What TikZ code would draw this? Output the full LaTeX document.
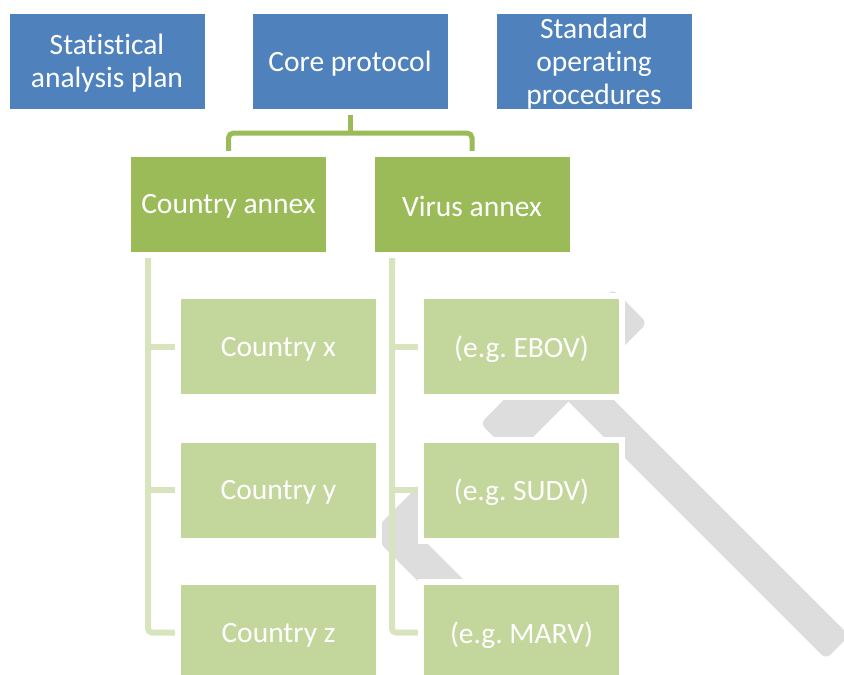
\documentclass[tikz,border=0pt]{standalone}
\usepackage{fontspec}
\setmainfont{Carlito}[Ligatures=NoCommon]
\frenchspacing
\definecolor{cblue}{HTML}{4F81BD}
\definecolor{cgreen}{HTML}{9BBB59}
\definecolor{clight}{HTML}{C3D69B}
\definecolor{cline}{HTML}{D7E4BD}
\definecolor{cgray}{HTML}{DDDDDD}
\pgfdeclarelayer{bg}
\pgfdeclarelayer{mid}
\pgfsetlayers{bg,mid,main}
\tikzset{
  box/.style={minimum width=195pt, minimum height=95pt, inner sep=0pt,
    preaction={draw=white, line width=12pt}},
  txt/.style={inner sep=0pt, align=center, text=white,
    font=\fontsize{29.5}{33}\selectfont, yshift=-2.5pt},
  topbox/.style={box, fill=cblue},
  midbox/.style={box, fill=cgreen},
  leafbox/.style={box, fill=clight},
  conn/.style={draw=cgreen, line width=5pt, rounded corners=5pt},
  ln/.style={draw=cline, line width=6pt, rounded corners=4pt},
  grayshape/.style={fill=cgray, rounded corners=6pt}
}
\begin{document}
\begin{tikzpicture}[x=1pt,y=-1pt]
\useasboundingbox (0,0) rectangle (844,675);
% nodes
\node[topbox, label={[txt]center:{Statistical\\analysis plan}}] (sap) at (107,61) {};
\node[topbox, label={[txt]center:{Core protocol}}] (core) at (350,61) {};
\node[topbox, label={[txt]center:{Standard\\operating\\procedures}}] (sop) at (594,61) {};
\node[midbox, label={[txt]center:{Country annex}}] (ca) at (228.5,204) {};
\node[midbox, label={[txt]center:{Virus annex}}] (va) at (472,204) {};
\node[leafbox, label={[txt]center:{Country x}}] (cx) at (278.5,346.5) {};
\node[leafbox, label={[txt]center:{Country y}}] (cy) at (278.5,490) {};
\node[leafbox, label={[txt]center:{Country z}}] (cz) at (278.5,632.5) {};
\node[leafbox, label={[txt]center:{(e.g. EBOV)}}] (vx) at (521.5,346.5) {};
\node[leafbox, label={[txt]center:{(e.g. SUDV)}}] (vy) at (521.5,490) {};
\node[leafbox, label={[txt]center:{(e.g. MARV)}}] (vz) at (521.5,632.5) {};
\coordinate (hub) at (350,133);
\coordinate (ca0) at (148,252);
\coordinate (va0) at (392,252);
% background gray shape
\begin{pgfonlayer}{bg}
\fill[grayshape] (480.5,423.5) -- (613,289) -- (647,323) -- (513.5,456.5) -- cycle;
\fill[grayshape] (558.5,391.5) -- (582,368) -- (849.5,635.5) -- (826,659) -- cycle;
\fill[grayshape] (380,524) -- (440,464) -- (420,536) -- (490,606) -- (450,613) -- (380,543) -- cycle;
\end{pgfonlayer}
% connectors
\begin{pgfonlayer}{mid}
\draw[conn] (core.south) -- (hub);
\draw[conn] (ca.north) |- (hub) -| (va.north);
\draw[ln] (ca0) |- (cz.west);
\draw[ln] (ca0 |- cx.west) -- (cx.west);
\draw[ln] (ca0 |- cy.west) -- (cy.west);
\draw[ln] (va0) |- (vz.west);
\draw[ln] (va0 |- vx.west) -- (vx.west);
\draw[ln] (va0 |- vy.west) -- (vy.west);
\end{pgfonlayer}
\end{tikzpicture}
\end{document}
